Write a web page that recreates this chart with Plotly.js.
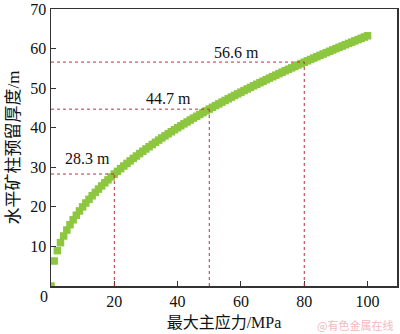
<!DOCTYPE html>
<html>
<head>
<meta charset="utf-8">
<script src="https://cdn.plot.ly/plotly-3.0.1.min.js"></script>
<style>html,body{margin:0;padding:0;background:#fff;}#chart{width:400px;height:334px;}</style>
</head>
<body>
<div id="chart"></div>
<script>
// Maximum principal stress (MPa)
var stress = [0,1,2,3,4,5,6,7,8,9,10,11,12,13,14,15,16,17,18,19,20,21,22,23,24,25,26,27,28,29,30,31,32,33,34,35,36,37,38,39,40,41,42,43,44,45,46,47,48,49,50,51,52,53,54,55,56,57,58,59,60,61,62,63,64,65,66,67,68,69,70,71,72,73,74,75,76,77,78,79,80,81,82,83,84,85,86,87,88,89,90,91,92,93,94,95,96,97,98,99,100];
// Horizontal pillar reserved thickness (m)
var thickness = [0,6.32,8.94,10.95,12.65,14.14,15.49,16.73,17.89,18.97,20.00,20.98,21.91,22.80,23.66,24.49,25.30,26.08,26.83,27.57,28.28,28.98,29.66,30.33,30.98,31.62,32.25,32.86,33.47,34.06,34.64,35.21,35.78,36.33,36.88,37.42,37.95,38.47,38.99,39.50,40.00,40.50,40.99,41.47,41.95,42.43,42.90,43.36,43.82,44.27,44.72,45.17,45.61,46.04,46.48,46.90,47.33,47.75,48.17,48.58,48.99,49.40,49.80,50.20,50.60,50.99,51.38,51.77,52.15,52.54,52.92,53.29,53.67,54.04,54.41,54.77,55.14,55.50,55.86,56.21,56.57,56.92,57.27,57.62,57.97,58.31,58.65,58.99,59.33,59.67,60.00,60.33,60.66,60.99,61.32,61.64,61.97,62.29,62.61,62.93,63.25];
// Reference points
var refStress = [20, 50, 80];
var refThick = [28.3, 44.7, 56.6];
var refLabels = ['28.3 m', '44.7 m', '56.6 m'];
var labelX = [11.5, 37, 58.5];
var labelY = [32.2, 47.5, 59];
var xTicks = [20, 40, 60, 80, 100];
var yTicks = [10, 20, 30, 40, 50, 60, 70];

var serif = "'Liberation Serif', 'Times New Roman', 'Noto Sans CJK SC', serif";
var refColor = '#b8323a';

var shapes = [];
var annotations = [];
for (var i = 0; i < refStress.length; i++) {
  shapes.push({type: 'line', xref: 'x', yref: 'y', x0: 0, x1: refStress[i], y0: refThick[i], y1: refThick[i],
    line: {color: refColor, width: 1, dash: 'dot'}});
  shapes.push({type: 'line', xref: 'x', yref: 'y', x0: refStress[i], x1: refStress[i], y0: 0, y1: refThick[i],
    line: {color: refColor, width: 1, dash: 'dot'}});
  annotations.push({x: labelX[i], y: labelY[i], xref: 'x', yref: 'y', text: refLabels[i], showarrow: false,
    font: {family: serif, size: 16, color: '#111'}});
}
annotations.push({x: -0.003, y: 0, xref: 'paper', yref: 'paper', text: '0', showarrow: false,
  xanchor: 'right', yanchor: 'top', font: {family: serif, size: 16, color: '#111'}});
annotations.push({x: 0.994, y: -0.139, xref: 'paper', yref: 'paper', text: '@有色金属在线', showarrow: false,
  xanchor: 'right', yanchor: 'middle', font: {family: 'Noto Sans CJK SC, sans-serif', size: 11, color: '#f2b9bd'}});

var trace = {
  x: stress, y: thickness, type: 'scatter', mode: 'markers',
  marker: {symbol: 'square', size: 7.5, color: '#8dc63f', line: {width: 0}},
  hoverinfo: 'skip'
};

var layout = {
  width: 400, height: 334,
  margin: {l: 51, r: 3, t: 9, b: 48},
  paper_bgcolor: '#fff', plot_bgcolor: '#fff',
  showlegend: false,
  xaxis: {
    range: [0, 109.3], tickvals: xTicks, ticks: 'inside', ticklen: 5, tickwidth: 1, tickcolor: '#333',
    showline: true, linecolor: '#333', linewidth: 1.5, mirror: true, showgrid: false, zeroline: false,
    tickfont: {family: serif, size: 16, color: '#111'},
    title: {text: '最大主应力/MPa', font: {family: serif, size: 16, color: '#111'}, standoff: 8}
  },
  yaxis: {
    range: [0, 70.02], tickvals: yTicks, ticks: 'inside', ticklen: 5, tickwidth: 1, tickcolor: '#333',
    showline: true, linecolor: '#333', linewidth: 1.5, mirror: true, showgrid: false, zeroline: false,
    ticklabeloverflow: 'allow',
    tickfont: {family: serif, size: 16, color: '#111'},
    title: {text: '水平矿柱预留厚度/m', font: {family: serif, size: 17, color: '#111'}, standoff: 6}
  },
  shapes: shapes,
  annotations: annotations
};

Plotly.newPlot('chart', [trace], layout, {staticPlot: true, displayModeBar: false});
</script>
</body>
</html>
